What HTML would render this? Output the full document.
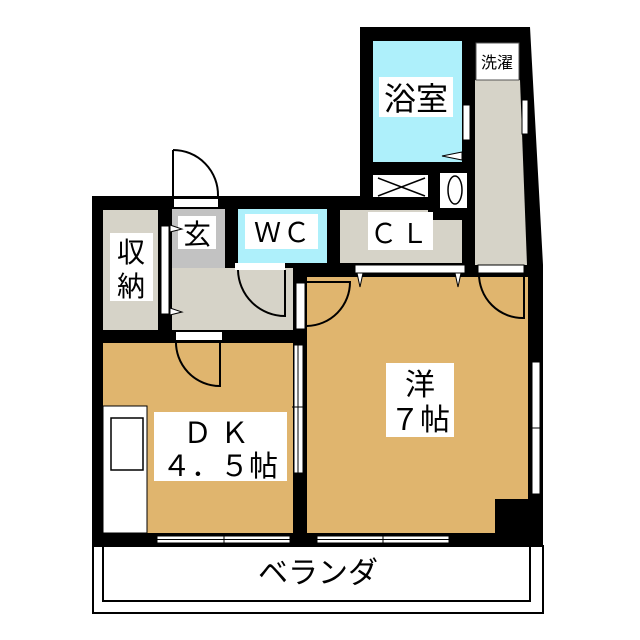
<!DOCTYPE html>
<html><head><meta charset="utf-8"><style>
html,body{margin:0;padding:0;background:#fff;}
svg{display:block}
text{font-family:"Liberation Sans","Noto Sans CJK JP",sans-serif;fill:#000}
</style></head><body>
<svg width="640" height="640" viewBox="0 0 640 640" xmlns="http://www.w3.org/2000/svg">
<path d="M173 150 A45 45 0 0 1 218 196" fill="none" stroke="#000" stroke-width="2"/>
<line x1="173" y1="150" x2="173" y2="197" stroke="#000" stroke-width="2"/>
<polygon points="92,196 360,196 360,27 530,27 543,265 543,546 92,546" fill="#000"/>
<rect x="93" y="546" width="450" height="67" fill="#fff" stroke="#000" stroke-width="2"/>
<rect x="103" y="546" width="427" height="55" fill="#fff" stroke="#000" stroke-width="2"/>
<text x="318" y="583" font-size="30" text-anchor="middle">ベランダ</text>
<rect x="373" y="41" width="89" height="121" fill="#aef0fb"/>
<rect x="463" y="105" width="7" height="35" fill="#fff" stroke="#000" stroke-width="1"/>
<polygon points="462,152 442,156 462,160" fill="#fff" stroke="#000" stroke-width="1"/>
<rect x="379" y="77" width="74" height="40" fill="#fff"/>
<text x="416" y="110" font-size="32" text-anchor="middle">浴室</text>
<polygon points="475,80 520,80 527,265 475,265" fill="#d6d3c8"/>
<rect x="476" y="43" width="43" height="37" fill="#fff" stroke="#555" stroke-width="1"/>
<text x="497" y="68" font-size="16" text-anchor="middle">洗濯</text>
<rect x="522" y="100" width="6" height="34" fill="#fff" stroke="#000" stroke-width="1"/>
<rect x="373" y="175" width="55" height="22" fill="#fff"/>
<path d="M378 178 L425 196 M378 196 L425 178" stroke="#000" stroke-width="1.5"/>
<rect x="440" y="173" width="27" height="35" fill="#fff"/>
<ellipse cx="455" cy="190" rx="7" ry="14" fill="#fff" stroke="#000" stroke-width="1.5"/>
<polygon points="340,210 428,210 428,220 462,220 462,263 340,263" fill="#d6d3c8"/>
<rect x="368" y="212" width="65" height="38" fill="#fff"/>
<text x="401" y="243" font-size="27" text-anchor="middle" letter-spacing="4">ＣＬ</text>
<rect x="238" y="209" width="89" height="54" fill="#aef0fb"/>
<rect x="245" y="214" width="73" height="35" fill="#fff"/>
<text x="283" y="242" font-size="27" text-anchor="middle" letter-spacing="2">ＷＣ</text>
<rect x="172" y="209" width="53" height="59" fill="#c2c2c2"/>
<rect x="178" y="216" width="38" height="33" fill="#fff"/>
<text x="197" y="244" font-size="28" text-anchor="middle">玄</text>
<rect x="174" y="199" width="44" height="8" fill="#fff"/>
<rect x="172" y="268" width="121" height="62" fill="#d6d3c8"/>
<rect x="235" y="263" width="50" height="7" fill="#fff"/>
<path d="M238 270 A47 47 0 0 0 285 316 L285 270" fill="none" stroke="#000" stroke-width="2"/>
<rect x="103" y="210" width="55" height="120" fill="#d6d3c8"/>
<rect x="110" y="233" width="43" height="68" fill="#fff"/>
<text x="131" y="262" font-size="28" text-anchor="middle">収</text>
<text x="131" y="296" font-size="28" text-anchor="middle">納</text>
<rect x="161" y="226" width="8" height="88" fill="#fff" stroke="#000" stroke-width="1"/>
<polygon points="170,225 182,229 170,232" fill="#fff" stroke="#000" stroke-width="1"/>
<polygon points="170,308 182,312 170,315" fill="#fff" stroke="#000" stroke-width="1"/>
<rect x="307" y="277" width="221" height="256" fill="#e0b56e"/>
<rect x="495" y="499" width="34" height="35" fill="#000"/>
<rect x="355" y="265" width="110" height="8" fill="#fff" stroke="#000" stroke-width="1"/>
<polygon points="357,273 360,287 363,273" fill="#fff" stroke="#000"/>
<polygon points="455,273 458,287 461,273" fill="#fff" stroke="#000"/>
<rect x="478" y="265" width="46" height="8" fill="#fff" stroke="#000" stroke-width="1"/>
<path d="M479 273 A44 44 0 0 0 524 318 L524 273" fill="none" stroke="#000" stroke-width="2"/>
<rect x="296" y="283" width="9" height="46" fill="#fff" stroke="#000" stroke-width="1"/>
<path d="M307 282 L350 282 A44 44 0 0 1 307 326" fill="none" stroke="#000" stroke-width="2"/>
<rect x="386" y="363" width="68" height="74" fill="#fff"/>
<text x="420" y="395" font-size="30" text-anchor="middle">洋</text>
<text x="420" y="430" font-size="30" text-anchor="middle">７帖</text>
<rect x="532" y="362" width="8" height="132" fill="#fff" stroke="#000" stroke-width="1"/>
<line x1="530" y1="428" x2="543" y2="428" stroke="#000"/>
<rect x="103" y="343" width="190" height="190" fill="#e0b56e"/>
<rect x="176" y="332" width="46" height="8" fill="#fff"/>
<path d="M176 340 A44 44 0 0 0 220 386 L220 340" fill="none" stroke="#000" stroke-width="2"/>
<rect x="294" y="345" width="9" height="128" fill="#fff" stroke="#000" stroke-width="1"/>
<line x1="298" y1="345" x2="298" y2="533" stroke="#000" stroke-width="1"/>
<line x1="292" y1="407" x2="306" y2="407" stroke="#000"/>
<rect x="103" y="406" width="44" height="127" fill="#fff" stroke="#000" stroke-width="1"/>
<rect x="111" y="418" width="32" height="52" fill="#fff" stroke="#000" stroke-width="1.5"/>
<rect x="154" y="412" width="133" height="69" fill="#fff"/>
<text x="220" y="443" font-size="29" text-anchor="middle" letter-spacing="8">ＤＫ</text>
<text x="220" y="476" font-size="29" text-anchor="middle">４．５帖</text>
<rect x="157" y="536" width="133" height="7" fill="#fff" stroke="#000" stroke-width="1"/>
<line x1="157" y1="539.5" x2="290" y2="539.5" stroke="#000" stroke-width="1"/>
<line x1="224" y1="533" x2="224" y2="546" stroke="#000"/>
<rect x="317" y="536" width="132" height="7" fill="#fff" stroke="#000" stroke-width="1"/>
<line x1="317" y1="539.5" x2="449" y2="539.5" stroke="#000" stroke-width="1"/>
<line x1="383" y1="533" x2="383" y2="546" stroke="#000"/>
</svg>
</body></html>
